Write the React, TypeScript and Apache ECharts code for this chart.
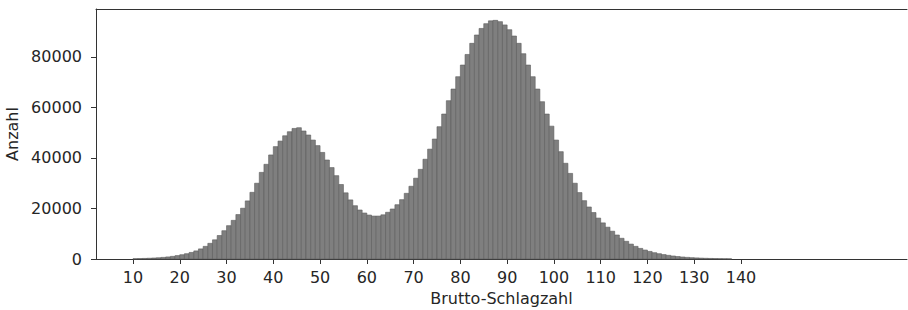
import React, { useEffect, useRef } from "react";
import * as echarts from "echarts";

// Histogram bins: each bin covers [start, start + 1)
const binStart = 10;
const counts = [
  120, 170, 230, 300, 390, 500, 640, 820, 1050, 1350,
  1700, 2100, 2600, 3200, 4000, 5000, 6200, 7600, 9300, 11200,
  13200, 15300, 17600, 20100, 23000, 26400, 30000, 34300, 37500, 41200,
  44500, 46700, 48800, 50400, 51700, 52000, 50700, 49100, 47100, 44900,
  42200, 39200, 36200, 33000, 29500, 26200, 23400, 21100, 19400, 18200,
  17400, 17000, 17000, 17500, 18500, 19800, 21500, 23500, 26000, 28800,
  32000, 35500, 39500, 43500, 47500, 52400, 57400, 62700, 67300, 72200,
  76800, 81000, 85400, 88700, 91300, 93200, 94300, 94500, 94000, 92700,
  90800, 88300, 85400, 81300, 76800, 72200, 67300, 62300, 57400, 52600,
  47100, 42500, 37900, 33900, 30000, 26300, 23100, 20600, 18400, 16200,
  14300, 12600, 11000, 9500, 8200, 7000, 5900, 5000, 4200, 3550,
  3000, 2500, 2100, 1750, 1450, 1200, 980, 800, 650, 530,
  430, 350, 280, 225, 180, 140, 110, 85,
];
const xTicks = [10, 20, 30, 40, 50, 60, 70, 80, 90, 100, 110, 120, 130, 140];
const xLabel = "Brutto-Schlagzahl";
const yLabel = "Anzahl";

export default function App() {
  const ref = useRef<HTMLDivElement>(null);
  useEffect(() => {
    if (!ref.current) return;
    const chart = echarts.init(ref.current, null, { renderer: "svg" });
    const data = counts.map((c, i) => [binStart + i, c]);
    const font = "DejaVu Sans";
    const textColor = "#262626";
    const lineColor = "#333333";
    chart.setOption({
      animation: false,
      textStyle: { fontFamily: font },
      grid: {
        left: 96,
        top: 9,
        right: 1,
        bottom: 51,
        containLabel: false,
        outerBoundsMode: "none",
      },
      xAxis: [
        {
          type: "value",
          min: 2.09,
          max: 175.5,
          name: xLabel,
          nameLocation: "middle",
          nameGap: 31,
          nameTextStyle: { fontSize: 16, color: textColor, fontFamily: font },
          axisLine: { show: true, onZero: false, lineStyle: { color: lineColor, width: 1 } },
          axisTick: { show: true, length: 5, customValues: xTicks, lineStyle: { color: lineColor } },
          axisLabel: { customValues: xTicks, fontSize: 16, color: textColor, margin: 10, fontFamily: font },
          splitLine: { show: false },
        },
        {
          type: "value",
          position: "top",
          min: 2.09,
          max: 175.5,
          axisLine: { show: true, onZero: false, lineStyle: { color: lineColor, width: 1 } },
          axisTick: { show: false },
          axisLabel: { show: false },
          splitLine: { show: false },
        },
      ],
      yAxis: {
        type: "value",
        min: 0,
        max: 99000,
        interval: 20000,
        name: yLabel,
        nameLocation: "middle",
        nameGap: 72,
        nameTextStyle: { fontSize: 16, color: textColor, fontFamily: font },
        axisLine: { show: true, lineStyle: { color: lineColor, width: 1 } },
        axisTick: { show: true, length: 5, lineStyle: { color: lineColor } },
        axisLabel: {
          fontSize: 16,
          color: textColor,
          margin: 14,
          fontFamily: font,
          showMaxLabel: false,
          formatter: (v: number) => String(v),
        },
        splitLine: { show: false },
      },
      series: [
        {
          type: "custom",
          xAxisIndex: 0,
          yAxisIndex: 0,
          data,
          encode: { x: 0, y: 1 },
          renderItem: (params: any, api: any) => {
            const x0 = api.value(0);
            const v = api.value(1);
            const p0 = api.coord([x0, v]);
            const p1 = api.coord([x0 + 1, 0]);
            return {
              type: "rect",
              shape: { x: p0[0], y: p0[1], width: p1[0] - p0[0], height: p1[1] - p0[1] },
              style: { fill: "#7f7f7f", stroke: "#5c5c5c", lineWidth: 0.6 },
            };
          },
        },
      ],
    });
    return () => chart.dispose();
  }, []);
  return (
    <div
      ref={ref}
      style={{ position: "absolute", left: 0, top: 0, width: 908, height: 310, background: "#fff" }}
    />
  );
}
